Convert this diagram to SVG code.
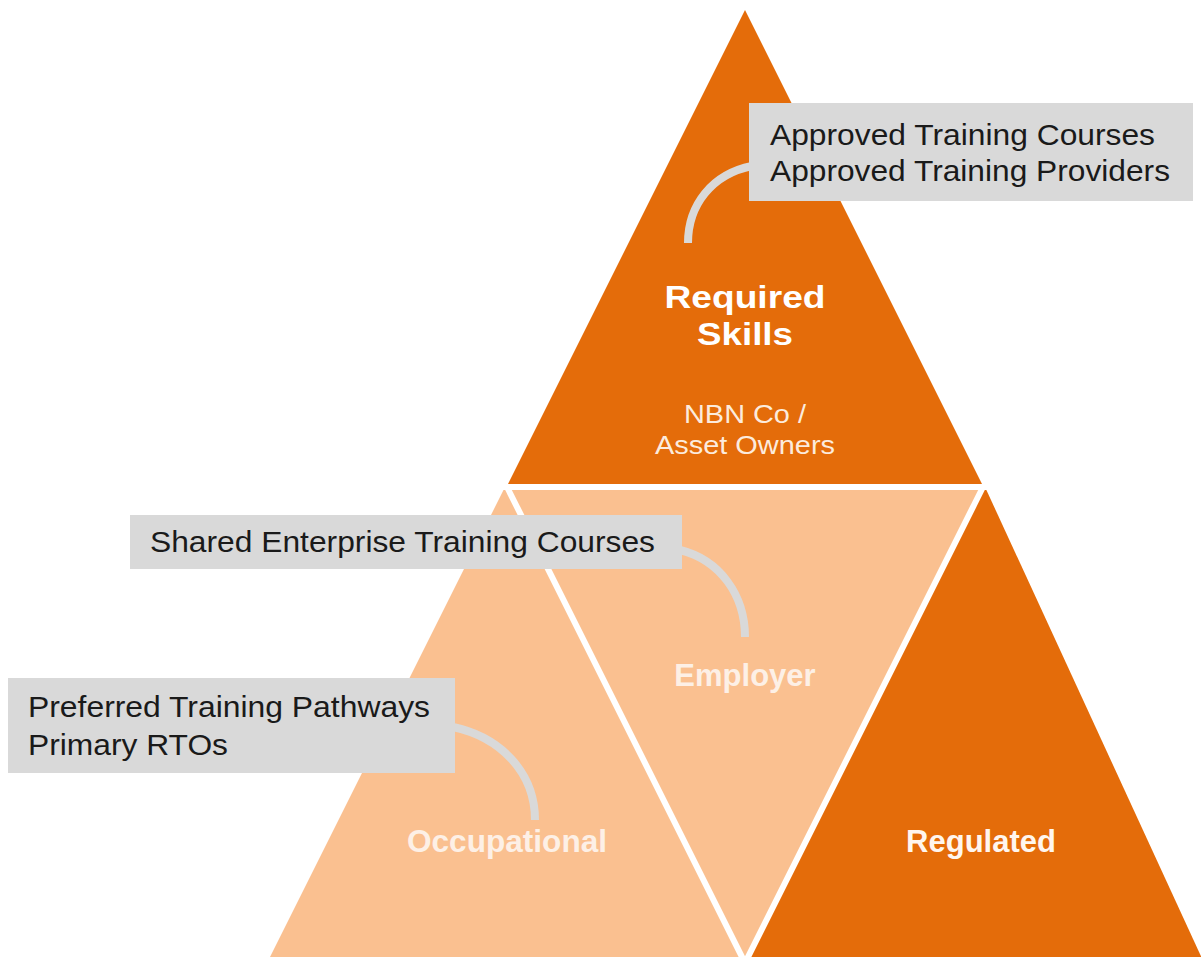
<svg xmlns="http://www.w3.org/2000/svg" width="1201" height="957" viewBox="0 0 1201 957">
<style>
.dark{fill:#E46C0A}
.light{fill:#FAC090}
.sep{stroke:#FFFFFF;stroke-width:6;fill:none}
.box{fill:#D9D9D9}
.btxt{font-family:"Liberation Sans",Arial,sans-serif;font-size:30px;fill:#1A1A1A}
.lbl{font-family:"Liberation Sans",Arial,sans-serif;font-weight:bold;font-size:31px;text-anchor:middle}
.sub{font-family:"Liberation Sans",Arial,sans-serif;font-size:26px;text-anchor:middle;fill:#FCEBDD}
.arc{stroke:#D9D9D9;stroke-width:8;fill:none}
</style>
<rect width="1201" height="957" fill="#FFFFFF"/>
<g id="node-employer">
<polygon class="light" points="505,487 985,487 745,967"/>
<text class="lbl" x="745" y="686" fill="#FDF0E6">Employer</text>
</g>
<g id="node-occupational">
<polygon class="light" points="505,487 745,967 265,967"/>
<text class="lbl" x="507" y="852" fill="#FDF0E6" textLength="200" lengthAdjust="spacingAndGlyphs">Occupational</text>
</g>
<g id="node-regulated">
<polygon class="dark" points="985,487 1206,967 745,967"/>
<text class="lbl" x="981" y="852" fill="#FFF6EF">Regulated</text>
</g>
<g id="separators">
<line class="sep" x1="495" y1="487" x2="995" y2="487"/>
<line class="sep" x1="507" y1="487" x2="746" y2="965" stroke-width="5"/>
<line class="sep" x1="983" y1="487" x2="744" y2="965" stroke-width="5"/>
</g>
<g id="node-required">
<polygon class="dark" points="745,10 982,484 508,484"/>
<text class="lbl" x="745" y="308" fill="#FFFFFF" font-size="36" textLength="161" lengthAdjust="spacingAndGlyphs">Required</text>
<text class="lbl" x="745" y="345" fill="#FFFFFF" font-size="36" textLength="96" lengthAdjust="spacingAndGlyphs">Skills</text>
<text class="sub" x="745" y="423" textLength="122" lengthAdjust="spacingAndGlyphs">NBN Co /</text>
<text class="sub" x="745" y="454" textLength="180" lengthAdjust="spacingAndGlyphs">Asset Owners</text>
</g>
<g id="connectors">
<path class="arc" d="M 752 166 C 712 174 688 205 688 243"/>
<path class="arc" d="M 680 550 C 720 560 745 595 745 637"/>
<path class="arc" d="M 453 727 C 500 737 535 772 535 820"/>
</g>
<g id="note-approved">
<rect class="box" x="749" y="103" width="444" height="98"/>
<text class="btxt" x="770" y="145" textLength="385" lengthAdjust="spacingAndGlyphs">Approved Training Courses</text>
<text class="btxt" x="770" y="181" textLength="400" lengthAdjust="spacingAndGlyphs">Approved Training Providers</text>
</g>
<g id="note-shared">
<rect class="box" x="130" y="515" width="552" height="54"/>
<text class="btxt" x="150" y="552" textLength="505" lengthAdjust="spacingAndGlyphs">Shared Enterprise Training Courses</text>
</g>
<g id="note-preferred">
<rect class="box" x="8" y="678" width="447" height="95"/>
<text class="btxt" x="28" y="717" textLength="402" lengthAdjust="spacingAndGlyphs">Preferred Training Pathways</text>
<text class="btxt" x="28" y="755" textLength="200" lengthAdjust="spacingAndGlyphs">Primary RTOs</text>
</g>
</svg>
